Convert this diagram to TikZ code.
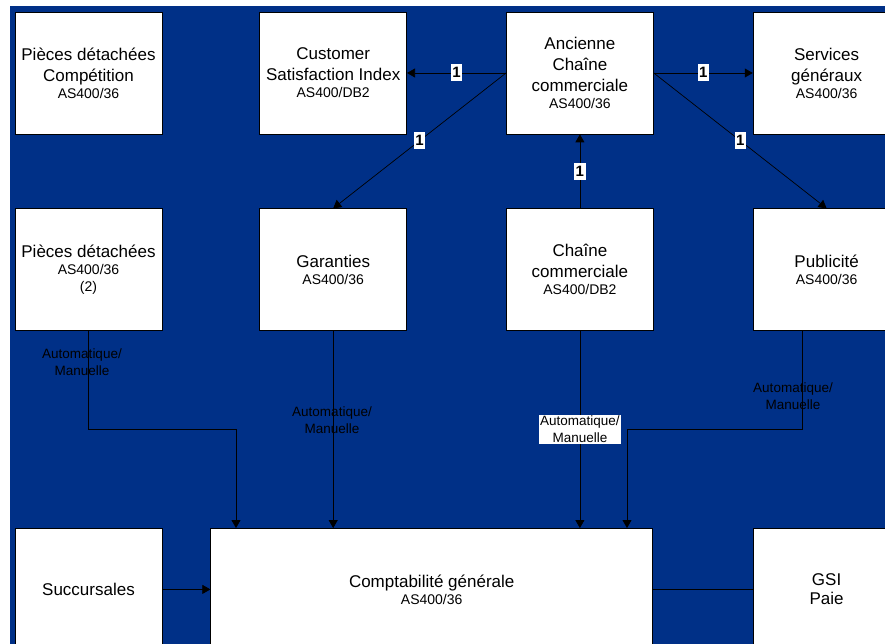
\documentclass[tikz,border=0pt]{standalone}
\usepackage{fontspec}
\setmainfont{Liberation Sans}
\usetikzlibrary{positioning,arrows.meta}

\definecolor{bgnavy}{RGB}{0,48,135}
\newcommand{\subfont}{\fontsize{14}{17}\selectfont}

\tikzset{
  sysbox/.style={draw=black, fill=white, line width=0.7pt,
    minimum width=147pt, minimum height=122pt, inner sep=0pt,
    align=center, font=\fontsize{17}{21}\selectfont},
  link/.style={line width=0.7pt, -{Triangle[length=8pt,width=9pt]}},
  wire/.style={line width=0.7pt},
  one/.style={fill=white, inner xsep=1.5pt, inner ysep=1.5pt,
    text height=12pt, text depth=2pt, font=\fontsize{15}{15}\selectfont\bfseries},
  mode/.style={align=center, inner sep=1pt, font=\fontsize{13.5}{17}\selectfont},
  modebox/.style={mode, fill=white}
}

\begin{document}
\begin{tikzpicture}[x=1pt, y=-1pt]

    \useasboundingbox (0,0) rectangle (885,644);
    \fill[bgnavy] (10,6) rectangle (885,644);

    % Define nodes
    \node[sysbox] (pdc) at (88.5,73) {Pièces détachées\\Compétition\\[-4pt]\subfont AS400/36};
    \node[sysbox, right=97pt of pdc] (csi) {Customer\\Satisfaction Index\\[-4pt]\subfont AS400/DB2};
    \node[sysbox, right=99pt of csi] (anc) {Ancienne\\Chaîne\\commerciale\\[-4pt]\subfont AS400/36};
    \node[sysbox, right=99pt of anc] (svg) {Services\\généraux\\[-4pt]\subfont AS400/36};

    \node[sysbox, below=74pt of pdc] (pd2) {Pièces détachées\\[-4pt]\subfont AS400/36\\[-4pt]\subfont (2)};
    \node[sysbox, below=74pt of csi] (gar) {Garanties\\[-4pt]\subfont AS400/36};
    \node[sysbox, below=74pt of anc] (chc) {Chaîne\\commerciale\\[-4pt]\subfont AS400/DB2};
    \node[sysbox, below=74pt of svg] (pub) {Publicité\\[-4pt]\subfont AS400/36};

    \node[sysbox, below=197pt of pd2] (suc) {Succursales};
    \node[sysbox, right=48pt of suc, minimum width=442pt] (comp) {Comptabilité générale\\[-4pt]\subfont AS400/36};
    \node[sysbox, below=197pt of pub] (gsi) {GSI\\[-2pt]Paie};

    % Bends of the feeds
    \coordinate (pdbend)  at (236,429);
    \coordinate (pubbend) at (627,429);

    % Connect the nodes
    \draw[link] (anc.west) -- node[one] {1} (csi.east);
    \draw[link] (anc.east) -- node[one] {1} (svg.west);
    \draw[link] (anc.west) -- node[one] {1} (gar.north);
    \draw[link] (anc.east) -- node[one] {1} (pub.north);
    \draw[link] (chc.north) -- node[one] {1} (anc.south);

    \draw[link] (pd2.south) |- (pdbend) -- (pdbend |- comp.north);
    \draw[link] (gar.south) -- (gar.south |- comp.north);
    \draw[link] (chc.south) -- node[modebox] (m3) {Automatique/\\Manuelle} (chc.south |- comp.north);
    \draw[link] ([xshift=-24pt]pub.south) |- (pubbend) -- (pubbend |- comp.north);
    \draw[link] (suc.east) -- (comp.west);
    \draw[wire] (comp.east) -- (gsi.west);

    % Feed labels
    \node[mode] (m1) at (82,362)  {Automatique/\\Manuelle};
    \node[mode] (m2) at (332,420) {Automatique/\\Manuelle};
    \node[mode] (m4) at (793,396) {Automatique/\\Manuelle};

\end{tikzpicture}
\end{document}
